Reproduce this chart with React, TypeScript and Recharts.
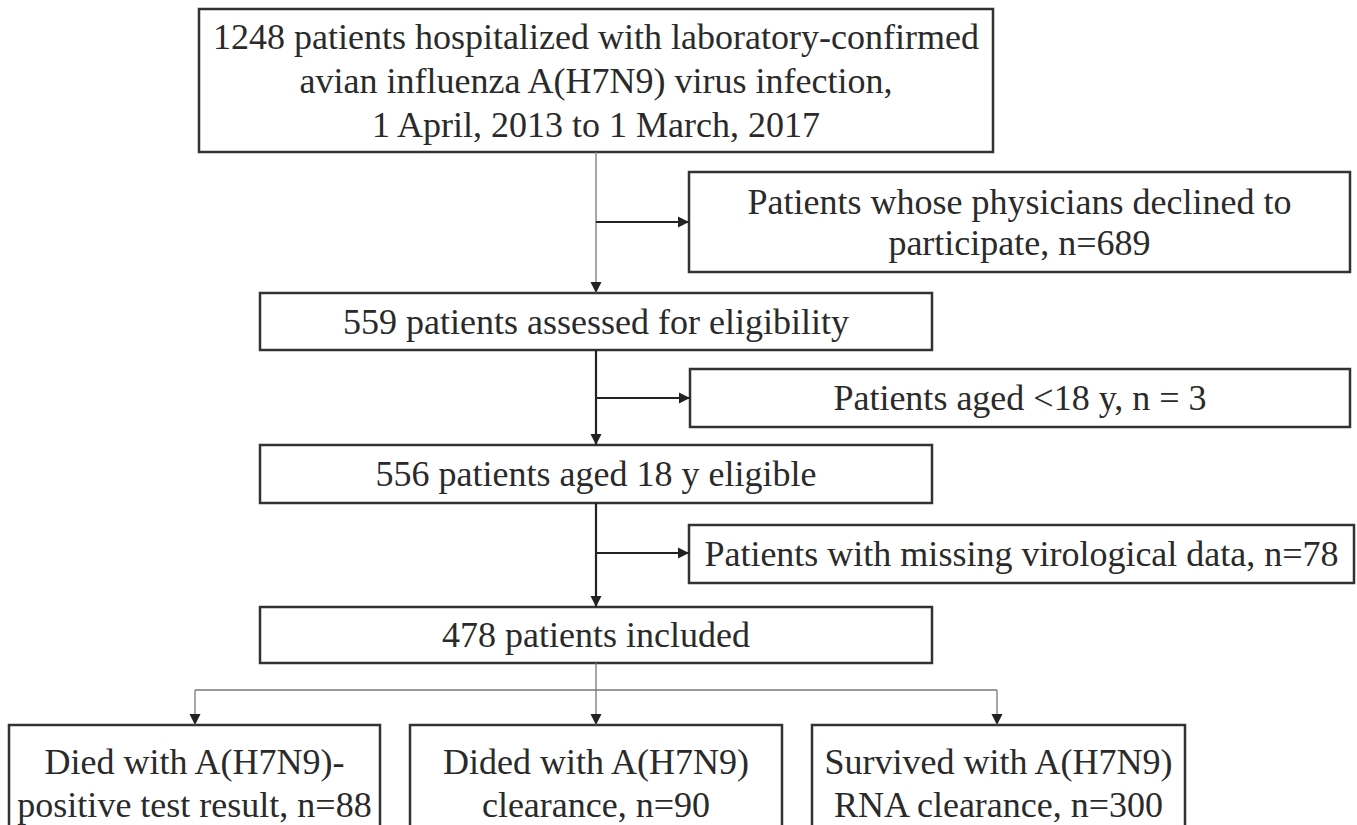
import React from "react";
import {
  ComposedChart,
  XAxis,
  YAxis,
  ReferenceArea,
  ReferenceLine,
  Scatter,
} from "recharts";

const W = 1357;
const H = 825;

// flow boxes: text lines and extents (diagram units = page pixels)
const boxLabels = [
  [
    "1248 patients hospitalized with laboratory-confirmed",
    "avian influenza A(H7N9) virus infection,",
    "1 April, 2013 to 1 March, 2017",
  ],
  ["Patients whose physicians declined to", "participate, n=689"],
  ["559 patients assessed for eligibility"],
  ["Patients aged <18 y, n = 3"],
  ["556 patients aged 18 y eligible"],
  ["Patients with missing virological data, n=78"],
  ["478 patients included"],
  ["Died with A(H7N9)-", "positive test result, n=88"],
  ["Dided with A(H7N9)", "clearance, n=90"],
  ["Survived with A(H7N9)", "RNA clearance, n=300"],
];
const boxLeft = [199, 689, 260, 690, 260, 689, 260, 9, 410, 812];
const boxRight = [993, 1350, 932, 1350, 932, 1354, 932, 380, 782, 1185];
const boxTop = [9, 172, 293, 369, 445, 525, 607, 725, 725, 725];
const boxBottom = [152, 272, 350, 427, 503, 583, 663, 870, 870, 870];
const lineGap = [44, 41, 0, 0, 0, 0, 0, 43, 43, 43];

// connectors: [x, y] start and end, thin = grey hairline
const linkFrom = [
  [596, 152], [596, 222], [596, 350], [596, 398], [596, 503], [596, 553],
  [596, 663], [195, 690], [195, 690], [596, 690], [997, 690],
];
const linkTo = [
  [596, 293], [689, 222], [596, 445], [690, 398], [596, 607], [689, 553],
  [596, 690], [997, 690], [195, 725], [596, 725], [997, 725],
];
const linkThin = [true, false, false, false, false, false, true, true, true, true, true];

// arrow heads at tips: direction "down" | "right"
const arrowX = [596, 689, 596, 690, 596, 689, 195, 596, 997];
const arrowY = [293, 222, 445, 398, 607, 553, 725, 725, 725];
const arrowDir = ["down", "right", "down", "right", "down", "right", "down", "down", "down"];

const FONT = "'Liberation Serif', 'Times New Roman', serif";

const labelData = boxLabels.map((lines, i) => ({
  x: (boxLeft[i] + boxRight[i]) / 2,
  y: i >= 7 ? boxTop[i] + 58 : (boxTop[i] + boxBottom[i]) / 2,
  lines,
  gap: lineGap[i],
}));

const arrowData = arrowX.map((x, i) => ({ x, y: arrowY[i], dir: arrowDir[i] }));

const LabelShape = (props: any) => {
  const { cx, cy, payload } = props;
  const n = payload.lines.length;
  const start = cy - ((n - 1) * payload.gap) / 2;
  return (
    <g>
      {payload.lines.map((t: string, k: number) => (
        <text
          key={k}
          x={cx}
          y={start + k * payload.gap}
          textAnchor="middle"
          dominantBaseline="central"
          fontFamily={FONT}
          fontSize={36}
          fill="#2a2a2a"
        >
          {t}
        </text>
      ))}
    </g>
  );
};

const ArrowShape = (props: any) => {
  const { cx, cy, payload } = props;
  const s = 9;
  const pts =
    payload.dir === "down"
      ? `${cx - s / 2 - 1},${cy - s - 2} ${cx + s / 2 + 1},${cy - s - 2} ${cx},${cy}`
      : `${cx - s - 2},${cy - s / 2 - 1} ${cx - s - 2},${cy + s / 2 + 1} ${cx},${cy}`;
  return <polygon points={pts} fill="#222" />;
};

export default function App() {
  return (
    <div style={{ position: "absolute", left: 0, top: 0, background: "#fff" }}>
      <ComposedChart
        width={W}
        height={H}
        margin={{ top: 0, right: 0, bottom: 0, left: 0 }}
      >
        <XAxis type="number" dataKey="x" domain={[0, W]} hide />
        <YAxis type="number" dataKey="y" domain={[0, H]} reversed hide />
        {boxLabels.map((_, i) => (
          <ReferenceArea
            key={`b${i}`}
            x1={boxLeft[i]}
            x2={boxRight[i]}
            y1={boxTop[i]}
            y2={boxBottom[i]}
            fill="#fff"
            fillOpacity={1}
            stroke="#333"
            strokeWidth={2.5}
            ifOverflow="hidden"
          />
        ))}
        {linkFrom.map((p, i) => (
          <ReferenceLine
            key={`l${i}`}
            segment={[
              { x: p[0], y: p[1] },
              { x: linkTo[i][0], y: linkTo[i][1] },
            ]}
            stroke={linkThin[i] ? "#777" : "#222"}
            strokeWidth={linkThin[i] ? 1.3 : 2.2}
            ifOverflow="visible"
          />
        ))}
        <Scatter
          data={arrowData}
          shape={<ArrowShape />}
          isAnimationActive={false}
        />
        <Scatter
          data={labelData}
          shape={<LabelShape />}
          isAnimationActive={false}
        />
      </ComposedChart>
    </div>
  );
}
